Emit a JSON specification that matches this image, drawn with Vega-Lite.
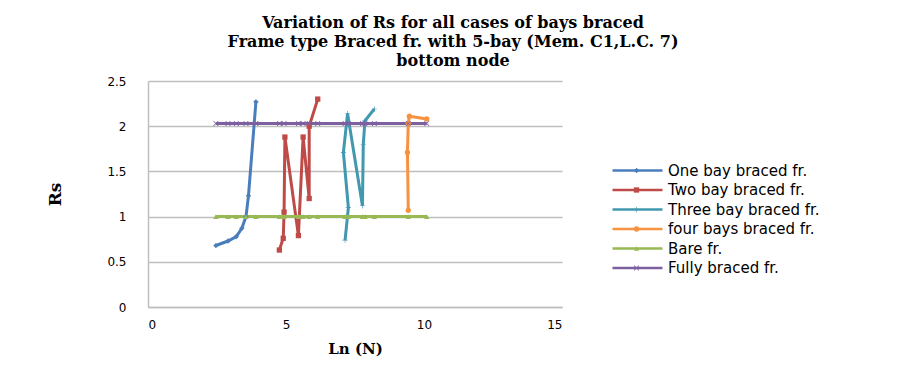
{
  "$schema": "https://vega.github.io/schema/vega-lite/v6.json",
  "autosize": "none",
  "width": 414,
  "height": 226,
  "padding": {"left": 148, "top": 81, "right": 339, "bottom": 59},
  "background": "white",
  "title": {
    "text": ["Variation of Rs for all cases of bays braced", "Frame type Braced fr. with 5-bay (Mem. C1,L.C. 7)", "bottom node"],
    "font": "DejaVu Serif",
    "fontSize": 16,
    "fontWeight": "bold",
    "lineHeight": 19,
    "anchor": "middle",
    "dx": 98,
    "offset": 6,
    "color": "#000000"
  },
  "data": {
    "values": [
      {"s": "One bay braced fr.", "k": 1, "i": 1, "x": 2.46, "y": 0.68},
      {"s": "One bay braced fr.", "k": 1, "i": 2, "x": 2.9, "y": 0.73},
      {"s": "One bay braced fr.", "k": 1, "i": 3, "x": 3.2, "y": 0.78},
      {"s": "One bay braced fr.", "k": 1, "i": 4, "x": 3.4, "y": 0.87},
      {"s": "One bay braced fr.", "k": 1, "i": 5, "x": 3.55, "y": 1.0},
      {"s": "One bay braced fr.", "k": 1, "i": 6, "x": 3.64, "y": 1.23},
      {"s": "One bay braced fr.", "k": 1, "i": 7, "x": 3.91, "y": 2.27},
      {"s": "Two bay braced fr.", "k": 2, "i": 1, "x": 4.76, "y": 0.63},
      {"s": "Two bay braced fr.", "k": 2, "i": 2, "x": 4.9, "y": 0.76},
      {"s": "Two bay braced fr.", "k": 2, "i": 3, "x": 4.93, "y": 1.05},
      {"s": "Two bay braced fr.", "k": 2, "i": 4, "x": 4.96, "y": 1.88},
      {"s": "Two bay braced fr.", "k": 2, "i": 5, "x": 5.45, "y": 0.79},
      {"s": "Two bay braced fr.", "k": 2, "i": 6, "x": 5.62, "y": 1.88},
      {"s": "Two bay braced fr.", "k": 2, "i": 7, "x": 5.84, "y": 1.2},
      {"s": "Two bay braced fr.", "k": 2, "i": 8, "x": 5.84, "y": 2.0},
      {"s": "Two bay braced fr.", "k": 2, "i": 9, "x": 6.15, "y": 2.3},
      {"s": "Three bay braced fr.", "k": 3, "i": 1, "x": 7.14, "y": 0.74},
      {"s": "Three bay braced fr.", "k": 3, "i": 2, "x": 7.26, "y": 1.1},
      {"s": "Three bay braced fr.", "k": 3, "i": 3, "x": 7.08, "y": 1.71},
      {"s": "Three bay braced fr.", "k": 3, "i": 4, "x": 7.23, "y": 2.14},
      {"s": "Three bay braced fr.", "k": 3, "i": 5, "x": 7.77, "y": 1.12},
      {"s": "Three bay braced fr.", "k": 3, "i": 6, "x": 7.8, "y": 1.8},
      {"s": "Three bay braced fr.", "k": 3, "i": 7, "x": 7.86, "y": 2.06},
      {"s": "Three bay braced fr.", "k": 3, "i": 8, "x": 8.2, "y": 2.19},
      {"s": "four bays braced fr.", "k": 4, "i": 1, "x": 9.43, "y": 1.07},
      {"s": "four bays braced fr.", "k": 4, "i": 2, "x": 9.4, "y": 1.71},
      {"s": "four bays braced fr.", "k": 4, "i": 3, "x": 9.43, "y": 2.03},
      {"s": "four bays braced fr.", "k": 4, "i": 4, "x": 9.47, "y": 2.11},
      {"s": "four bays braced fr.", "k": 4, "i": 5, "x": 10.1, "y": 2.08},
      {"s": "Bare fr.", "k": 5, "i": 1, "x": 2.46, "y": 1.0},
      {"s": "Bare fr.", "k": 5, "i": 2, "x": 2.9, "y": 1.0},
      {"s": "Bare fr.", "k": 5, "i": 3, "x": 3.2, "y": 1.0},
      {"s": "Bare fr.", "k": 5, "i": 4, "x": 3.55, "y": 1.0},
      {"s": "Bare fr.", "k": 5, "i": 5, "x": 3.91, "y": 1.0},
      {"s": "Bare fr.", "k": 5, "i": 6, "x": 4.76, "y": 1.0},
      {"s": "Bare fr.", "k": 5, "i": 7, "x": 4.93, "y": 1.0},
      {"s": "Bare fr.", "k": 5, "i": 8, "x": 5.45, "y": 1.0},
      {"s": "Bare fr.", "k": 5, "i": 9, "x": 5.62, "y": 1.0},
      {"s": "Bare fr.", "k": 5, "i": 10, "x": 5.84, "y": 1.0},
      {"s": "Bare fr.", "k": 5, "i": 11, "x": 6.15, "y": 1.0},
      {"s": "Bare fr.", "k": 5, "i": 12, "x": 7.14, "y": 1.0},
      {"s": "Bare fr.", "k": 5, "i": 13, "x": 7.26, "y": 1.0},
      {"s": "Bare fr.", "k": 5, "i": 14, "x": 7.77, "y": 1.0},
      {"s": "Bare fr.", "k": 5, "i": 15, "x": 7.86, "y": 1.0},
      {"s": "Bare fr.", "k": 5, "i": 16, "x": 8.2, "y": 1.0},
      {"s": "Bare fr.", "k": 5, "i": 17, "x": 9.43, "y": 1.0},
      {"s": "Bare fr.", "k": 5, "i": 18, "x": 10.1, "y": 1.0},
      {"s": "Fully braced fr.", "k": 6, "i": 1, "x": 2.46, "y": 2.03},
      {"s": "Fully braced fr.", "k": 6, "i": 2, "x": 2.9, "y": 2.03},
      {"s": "Fully braced fr.", "k": 6, "i": 3, "x": 3.2, "y": 2.03},
      {"s": "Fully braced fr.", "k": 6, "i": 4, "x": 3.55, "y": 2.03},
      {"s": "Fully braced fr.", "k": 6, "i": 5, "x": 3.91, "y": 2.03},
      {"s": "Fully braced fr.", "k": 6, "i": 6, "x": 4.76, "y": 2.03},
      {"s": "Fully braced fr.", "k": 6, "i": 7, "x": 4.93, "y": 2.03},
      {"s": "Fully braced fr.", "k": 6, "i": 8, "x": 5.45, "y": 2.03},
      {"s": "Fully braced fr.", "k": 6, "i": 9, "x": 5.62, "y": 2.03},
      {"s": "Fully braced fr.", "k": 6, "i": 10, "x": 5.84, "y": 2.03},
      {"s": "Fully braced fr.", "k": 6, "i": 11, "x": 6.15, "y": 2.03},
      {"s": "Fully braced fr.", "k": 6, "i": 12, "x": 7.14, "y": 2.03},
      {"s": "Fully braced fr.", "k": 6, "i": 13, "x": 7.26, "y": 2.03},
      {"s": "Fully braced fr.", "k": 6, "i": 14, "x": 7.77, "y": 2.03},
      {"s": "Fully braced fr.", "k": 6, "i": 15, "x": 7.86, "y": 2.03},
      {"s": "Fully braced fr.", "k": 6, "i": 16, "x": 8.2, "y": 2.03},
      {"s": "Fully braced fr.", "k": 6, "i": 17, "x": 9.43, "y": 2.03},
      {"s": "Fully braced fr.", "k": 6, "i": 18, "x": 10.1, "y": 2.03}
    ]
  },
  "encoding": {
    "x": {
      "field": "x", "type": "quantitative",
      "scale": {"domain": [0, 15], "nice": false, "zero": false},
      "axis": {
        "values": [0, 5, 10, 15], "title": "Ln (N)", "grid": false, "ticks": false,
        "domainColor": "#BFBFBF", "domainWidth": 1.5,
        "labelFont": "DejaVu Sans", "labelFontSize": 12, "labelColor": "#000000", "labelPadding": 12,
        "titleFont": "DejaVu Serif", "titleFontSize": 15, "titleFontWeight": "bold", "titleColor": "#000000", "titlePadding": 11
      }
    },
    "y": {
      "field": "y", "type": "quantitative",
      "scale": {"domain": [0, 2.5], "nice": false},
      "axis": {
        "values": [0, 0.5, 1, 1.5, 2, 2.5], "format": "~g", "title": "Rs", "grid": true, "ticks": false,
        "gridColor": "#BFBFBF", "gridWidth": 1.5, "domainColor": "#BFBFBF", "domainWidth": 1.5,
        "labelFont": "DejaVu Sans", "labelFontSize": 12, "labelColor": "#000000", "labelPadding": 22,
        "titleFont": "DejaVu Serif", "titleFontSize": 17, "titleFontWeight": "bold", "titleColor": "#000000", "titlePadding": 42
      }
    }
  },
  "layer": [
    {
      "mark": {"type": "line", "strokeWidth": 3},
      "encoding": {
        "color": {
          "field": "s", "type": "nominal",
          "scale": {
            "domain": ["One bay braced fr.", "Two bay braced fr.", "Three bay braced fr.", "four bays braced fr.", "Bare fr.", "Fully braced fr."],
            "range": ["#4A7EBB", "#BE4B48", "#4198AF", "#F69240", "#98B954", "#7D60A0"]
          },
          "legend": {
            "title": null, "orient": "none", "legendX": 482, "legendY": 82, "padding": 0,
            "symbolType": "M-12.5,0L12.5,0", "symbolSize": 16, "symbolStrokeWidth": 2.5,
            "labelFont": "DejaVu Sans", "labelFontSize": 15, "labelColor": "#000000", "labelOffset": 23,
            "rowPadding": 3.5, "labelLimit": 300
          }
        },
        "order": {"field": "i", "type": "quantitative"}
      }
    },
    {
      "mark": {"type": "point", "filled": true, "size": 28, "opacity": 1},
      "encoding": {
        "shape": {
          "field": "s", "type": "nominal", "sort": {"field": "k", "op": "min"},
          "scale": {"range": ["diamond", "square", "M-1,-0.12L-0.12,-0.12L-0.12,-1L0.12,-1L0.12,-0.12L1,-0.12L1,0.12L0.12,0.12L0.12,1L-0.12,1L-0.12,0.12L-1,0.12Z", "circle", "triangle-up", "M-1,-0.8L-0.8,-1L0,-0.2L0.8,-1L1,-0.8L0.2,0L1,0.8L0.8,1L0,0.2L-0.8,1L-1,0.8L-0.2,0Z"]},
          "legend": {
            "title": null, "orient": "none", "legendX": 481, "legendY": 82, "padding": 0,
            "symbolSize": 28, "symbolStrokeWidth": 0,
            "labelFont": "DejaVu Sans", "labelFontSize": 15, "labelExpr": "''", "labelOffset": 5,
            "rowPadding": 3.5, "labelLimit": 300
          }
        },
        "fill": {
          "field": "s", "type": "nominal", "sort": {"field": "k", "op": "min"},
          "scale": {"range": ["#4A7EBB", "#BE4B48", "#4198AF", "#F69240", "#98B954", "#7D60A0"]}
        }
      }
    }
  ],
  "config": {
    "view": {"stroke": null}
  }
}
